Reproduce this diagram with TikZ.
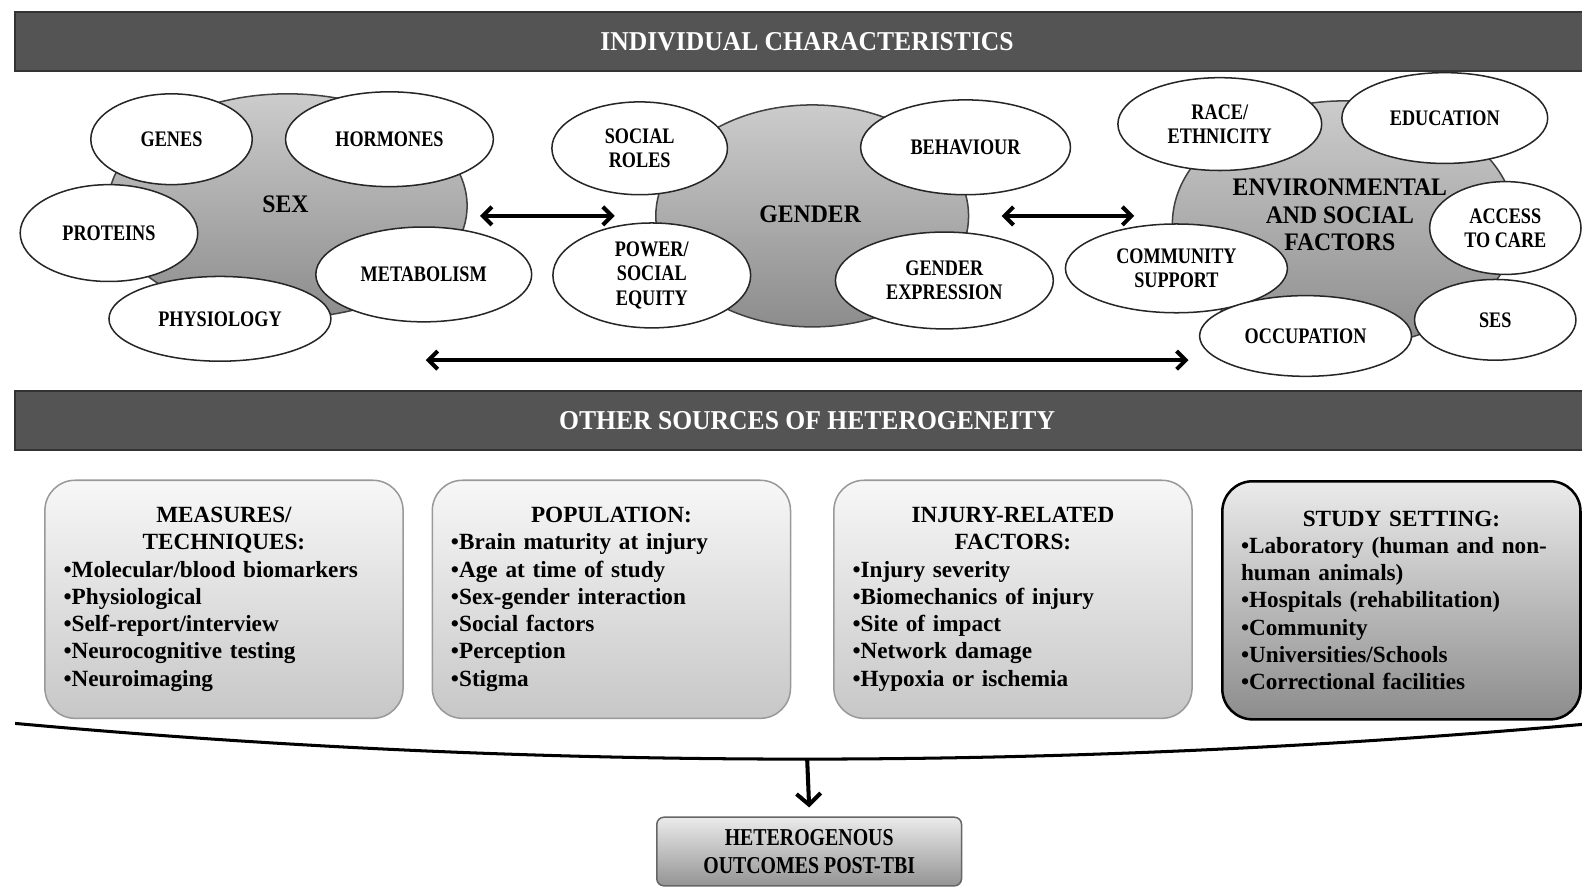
\documentclass[tikz,border=0pt]{standalone}
\usepackage{fontspec}
\setmainfont{Liberation Serif}
\newfontfamily\narrowfont[FakeStretch=0.82]{Liberation Serif}
\newfontfamily\bannerfont[FakeStretch=0.94]{Liberation Serif}
\usetikzlibrary{shapes.geometric,arrows.meta}
\tikzset{
    head-bar/.style = {rectangle, fill=black!67, draw=black!80, line width=2pt, minimum height=58pt, minimum width=1570pt, text=white, font=\bannerfont\bfseries\fontsize{27}{29}\selectfont},
    big-blob/.style = {ellipse, draw=black!75, line width=1.5pt, top color=black!20, bottom color=black!45, inner sep=0pt, align=center},
    blob-label/.style = {align=center, font=\bannerfont\bfseries\fontsize{25}{27}\selectfont},
    small-oval/.style = {ellipse, draw=black!85, fill=white, line width=1.5pt, inner sep=0pt, align=center, font=\narrowfont\bfseries\fontsize{22}{24}\selectfont},
    dbl-arrow/.style = {line width=4pt, {Straight Barb[length=9pt,width=18pt]}-{Straight Barb[length=9pt,width=18pt]}},
    info-box/.style = {rectangle, rounded corners=30pt, draw=black!40, line width=1.5pt, top color=black!3, bottom color=black!22, inner sep=0pt, minimum width=355pt, minimum height=236pt, text width=318pt, align=left, font=\bfseries\fontsize{23}{27}\selectfont},
    setting-box/.style = {info-box, draw=black, line width=2.5pt, top color=black!8, bottom color=black!45},
    brace-line/.style = {line width=3pt},
    down-arrow/.style = {line width=4pt, -{Straight Barb[length=11pt,width=24pt]}},
    outcome-box/.style = {rectangle, rounded corners=7pt, draw=black!60, line width=1.5pt, top color=black!8, bottom color=black!42, minimum width=302pt, minimum height=68pt, inner sep=0pt, align=center, font=\narrowfont\bfseries\fontsize{24}{28}\selectfont},
}
\begin{document}
\begin{tikzpicture}[x=1pt,y=-1pt]
\useasboundingbox (0,0) rectangle (1568,880);

\node [head-bar] (indiv) at (800,41) {INDIVIDUAL CHARACTERISTICS};
\node [head-bar] (other) at (800,417) {OTHER SOURCES OF HETEROGENEITY};

\node [big-blob, minimum width=356pt, minimum height=222pt] (sex) at (285,204) {};
\node [big-blob, minimum width=310pt, minimum height=220pt] (gender) at (805,214) {};
\node [big-blob, minimum width=340pt, minimum height=244pt] (envsoc) at (1332,222) {};
\node [blob-label] (sex-label) at (283,202) {SEX};
\node [blob-label] (gender-label) at (803,212) {GENDER};

\node [small-oval, minimum width=160pt, minimum height=90pt] (genes) at (170,138) {GENES};
\node [small-oval, minimum width=206pt, minimum height=94pt] (hormones) at (386,138) {HORMONES};
\node [small-oval, minimum width=176pt, minimum height=96pt] (proteins) at (108,231) {PROTEINS};
\node [small-oval, minimum width=220pt, minimum height=84pt] (physiology) at (218,316) {PHYSIOLOGY};
\node [small-oval, minimum width=214pt, minimum height=94pt] (metabolism) at (420,272) {METABOLISM};

\node [small-oval, minimum width=174pt, minimum height=92pt] (roles) at (634,147) {SOCIAL\\ROLES};
\node [small-oval, minimum width=208pt, minimum height=94pt] (behaviour) at (957,146) {BEHAVIOUR};
\node [small-oval, minimum width=196pt, minimum height=104pt] (equity) at (646,273) {POWER/\\SOCIAL\\EQUITY};
\node [small-oval, minimum width=216pt, minimum height=96pt] (expression) at (936,278) {GENDER\\EXPRESSION};

\node [small-oval, minimum width=202pt, minimum height=92pt] (race) at (1209,123) {RACE/\\ETHNICITY};
\node [small-oval, minimum width=204pt, minimum height=90pt] (education) at (1432,117) {EDUCATION};
\node [small-oval, minimum width=150pt, minimum height=92pt] (access) at (1492,226) {ACCESS\\TO CARE};
\node [small-oval, minimum width=220pt, minimum height=88pt] (community) at (1166,266) {COMMUNITY\\SUPPORT};
\node [small-oval, minimum width=160pt, minimum height=80pt] (ses) at (1482,317) {SES};
\node [small-oval, minimum width=210pt, minimum height=80pt] (occupation) at (1294,333) {OCCUPATION};
\node [blob-label] (envsoc-label) at (1328,213) {ENVIRONMENTAL\\AND SOCIAL\\FACTORS};

\draw [dbl-arrow] ([xshift=12pt]sex.east |- gender.center) -- ([xshift=-40pt]gender.west);
\draw [dbl-arrow] ([xshift=32pt]gender.east) -- ([xshift=-37pt]gender.east -| envsoc.west);
\coordinate (long-l) at (422,357);
\coordinate (long-r) at (1178,357);
\draw [dbl-arrow] (long-l) -- (long-r);

\coordinate (brace-l) at (15,717);
\coordinate (brace-m) at (800,752);
\coordinate (brace-r) at (1568,718);
\draw [brace-line] (brace-l) .. controls (532,764) and (1050,764) .. (brace-r);

\node [info-box] (measures) at (222,594) {{\centering MEASURES/\\TECHNIQUES:\par}
    •Molecular/blood biomarkers\\•Physiological\\•Self-report/interview\\•Neurocognitive testing\\•Neuroimaging};
\node [info-box] (population) at (606,594) {{\centering POPULATION:\par}
    •Brain maturity at injury\\•Age at time of study\\•Sex-gender interaction\\•Social factors\\•Perception\\•Stigma};
\node [info-box] (injury) at (1004,594) {{\centering INJURY-RELATED\\FACTORS:\par}
    •Injury severity\\•Biomechanics of injury\\•Site of impact\\•Network damage\\•Hypoxia or ischemia};
\node [setting-box] (setting) at (1389,595) {{\centering STUDY SETTING:\par}
    •Laboratory (human and non-\\human animals)\\•Hospitals (rehabilitation)\\•Community\\•Universities/Schools\\•Correctional facilities};

\node [outcome-box] (outcome) at (802,844) {HETEROGENOUS\\OUTCOMES POST-TBI};
\draw [down-arrow] (brace-m) -- ([yshift=9pt]outcome.north);
\end{tikzpicture}
\end{document}
